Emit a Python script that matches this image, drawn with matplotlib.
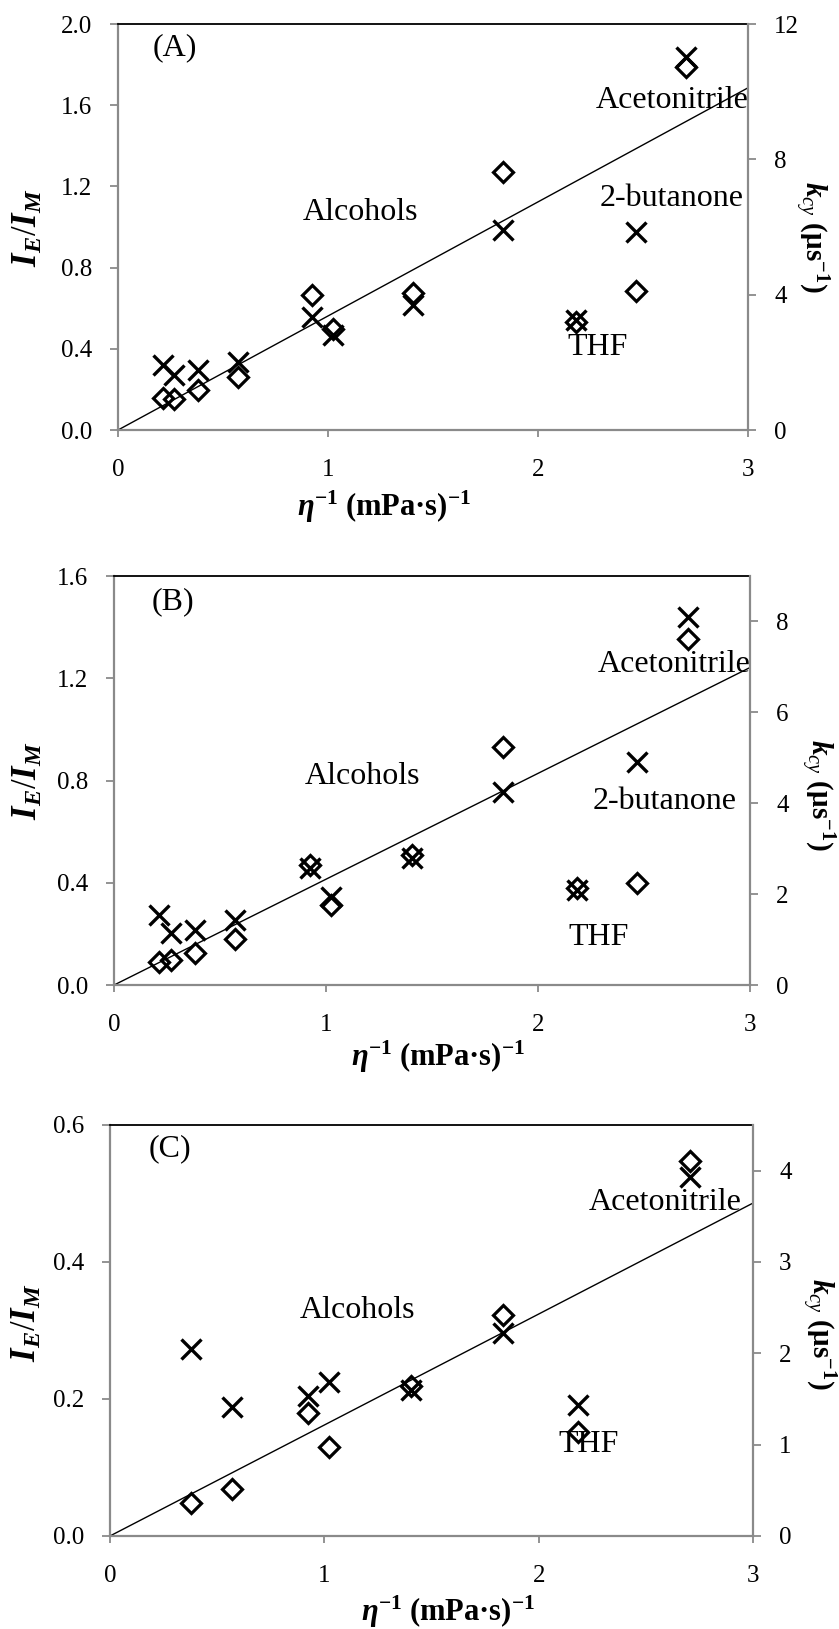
import numpy as np
import matplotlib.pyplot as plt

plt.rcParams['font.family'] = ['Liberation Serif', 'DejaVu Serif']
plt.rcParams['mathtext.fontset'] = 'custom'
plt.rcParams['mathtext.rm'] = 'Liberation Serif'
plt.rcParams['mathtext.it'] = 'Liberation Serif:italic'
plt.rcParams['mathtext.bf'] = 'Liberation Serif:bold'
plt.rcParams['mathtext.bfit'] = 'Liberation Serif:italic:bold'

# inverse viscosity of each solvent, (mPa s)^-1
inv_eta = [0.214, 0.267, 0.38, 0.571, 0.924, 1.024, 1.405, 1.833, 2.183, 2.468, 2.706]
inv_eta_c = [0.38, 0.571, 0.924, 1.024, 1.405, 1.833, 2.183, 2.706]

# (A)
ratio_a = [0.156, 0.153, 0.197, 0.263, 0.665, 0.50, 0.673, 1.273, 0.534, 0.685, 1.79]
kcy_a = [1.92, 1.62, 1.78, 2.02, 3.35, 2.81, 3.69, 5.91, 3.24, 5.86, 11.04]
slope_a = 0.562
# (B)
ratio_b = [0.091, 0.098, 0.124, 0.182, 0.469, 0.313, 0.508, 0.932, 0.378, 0.40, 1.355]
kcy_b = [1.54, 1.14, 1.21, 1.43, 2.57, 1.94, 2.80, 4.24, 2.09, 4.91, 8.10]
slope_b = 0.414
# (C)
ratio_c = [0.048, 0.068, 0.18, 0.13, 0.219, 0.322, 0.152, 0.547]
kcy_c = [2.05, 1.41, 1.53, 1.69, 1.60, 2.22, 1.43, 3.93]
slope_c = 0.162

panels = [
    dict(x=inv_eta, r=ratio_a, k=kcy_a, slope=slope_a,
         ylim=2.0, ystep=0.4, klim=12, kstep=4,
         rect=[0.1406, 0.7360, 0.7509, 0.2492],
         ylab=(-0.143, 0.5), klab=(1.10, 0.475), xlab=(0.422, -0.190),
         notes=[('(A)', 0.167, 1.847), ('Alcohols', 0.881, 1.034),
                ('Acetonitrile', 2.276, 1.586), ('2-butanone', 2.295, 1.103),
                ('THF', 2.138, 0.369)]),
    dict(x=inv_eta, r=ratio_b, k=kcy_b, slope=slope_b,
         ylim=1.6, ystep=0.4, klim=9, kstep=2,
         rect=[0.1359, 0.3953, 0.7580, 0.2511],
         ylab=(-0.135, 0.5), klab=(1.105, 0.466), xlab=(0.51, -0.176),
         notes=[('(B)', 0.179, 1.472), ('Alcohols', 0.90, 0.788),
                ('Acetonitrile', 2.283, 1.225), ('2-butanone', 2.256, 0.69),
                ('THF', 2.145, 0.156)]),
    dict(x=inv_eta_c, r=ratio_c, k=kcy_c, slope=slope_c,
         ylim=0.6, ystep=0.2, klim=4.5, kstep=1,
         rect=[0.1311, 0.0571, 0.7664, 0.2523],
         ylab=(-0.128, 0.52), klab=(1.101, 0.493), xlab=(0.526, -0.185),
         notes=[('(C)', 0.178, 0.554), ('Alcohols', 0.884, 0.318),
                ('Acetonitrile', 2.233, 0.476), ('THF', 2.093, 0.123)]),
]

grey = '#8a8a8a'
fig = plt.figure(figsize=(8.39, 16.29), dpi=100)

for p in panels:
    ax = fig.add_axes(p['rect'])
    ax2 = ax.twinx()

    xs = np.array([0, 3])
    ax.plot(xs, p['slope'] * xs, color='black', lw=1.0, zorder=2)
    ax.plot(p['x'], p['r'], linestyle='none', marker='D', ms=10,
            mfc='none', mec='black', mew=2.3, zorder=4)
    ax2.plot(p['x'], p['k'], linestyle='none', marker='x', ms=14,
             color='black', mew=2.4, zorder=4)

    for txt, tx, ty in p['notes']:
        ax.text(tx, ty, txt, fontsize=23, ha='left', va='baseline', zorder=1)

    ax.set_xlim(0, 3)
    ax.set_ylim(0, p['ylim'])
    ax2.set_ylim(0, p['klim'])
    ax.set_xticks([0, 1, 2, 3])
    ax.set_yticks(np.arange(0, p['ylim'] + 1e-9, p['ystep']))
    ax.set_yticklabels(['%.1f' % v for v in ax.get_yticks()])
    ax2.set_yticks(np.arange(0, p['klim'] + 1e-9, p['kstep']))
    ax2.set_yticklabels(['%d' % v for v in ax2.get_yticks()])

    for a in (ax, ax2):
        a.tick_params(direction='out', length=5.8, width=1.3, color=grey,
                      labelsize=18, pad=13)
        for s in a.spines.values():
            s.set_color(grey)
            s.set_linewidth(1.6)
    ax.tick_params(axis='x', length=5, pad=16)
    ax.spines['top'].set_color('black')
    ax.spines['top'].set_linewidth(1.3)
    ax.spines['right'].set_visible(False)
    for side in ('top', 'left', 'bottom'):
        ax2.spines[side].set_visible(False)

    ax.set_xlabel(r'$\mathbfit{\eta}^{\mathbf{-1}}$ (mPa·s)$^{\mathbf{-1}}$',
                  fontsize=22, fontweight='bold', va='center')
    ax.xaxis.set_label_coords(*p['xlab'])
    ax.set_ylabel(r'$\mathbfit{I}_{\mathbfit{E}}/\mathbfit{I}_{\mathbfit{M}}$',
                  fontsize=25, va='center')
    ax.yaxis.set_label_coords(*p['ylab'])
    ax2.set_ylabel(r'$\mathbfit{k}_{\mathit{cy}}$ (μs$^{\mathbf{-1}}$)',
                   fontsize=21, fontweight='bold', rotation=-90, va='center')
    ax2.yaxis.set_label_coords(*p['klab'])

fig.savefig('out.png', dpi=100)
